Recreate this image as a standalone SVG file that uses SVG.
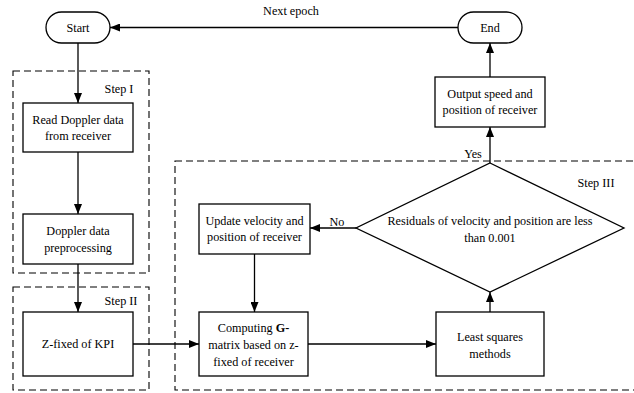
<svg xmlns="http://www.w3.org/2000/svg" width="634" height="393" viewBox="0 0 634 393">
<defs>
<marker id="arr" markerWidth="10" markerHeight="8" refX="10" refY="4" orient="auto" markerUnits="userSpaceOnUse">
<path d="M0,0 L10,4 L0,8 Z" fill="#000"/>
</marker>
<style>
.box{fill:#fff;stroke:#000;stroke-width:1.3}
.step{fill:none;stroke:#000;stroke-width:1.1;stroke-dasharray:7,4}
.t{font-family:'Liberation Serif','Times New Roman',serif;font-size:12.2px;fill:#000;text-anchor:middle}
.c{fill:none;stroke:#000;stroke-width:1.3;marker-end:url(#arr)}
</style>
</defs>
<rect width="634" height="393" fill="#fff"/>
<g id="steps">
<rect class="step" x="13" y="71" width="136" height="202"/>
<text class="t" x="119" y="93">Step I</text>
<rect class="step" x="13" y="287" width="136" height="103"/>
<text class="t" x="121" y="305">Step II</text>
<rect class="step" x="175" y="161" width="470" height="229"/>
<text class="t" x="596" y="187">Step III</text>
</g>
<g id="connectors">
<path class="c" d="M458,27.5 L110,27.5"/>
<path class="c" d="M78,43 L78,103"/>
<path class="c" d="M78,152 L78,214"/>
<path class="c" d="M78,264 L78,312"/>
<path class="c" d="M133,344 L199,344"/>
<path class="c" d="M308,344 L436,344"/>
<path class="c" d="M490,312 L490,292"/>
<path class="c" d="M356,228 L310,228"/>
<path class="c" d="M254.5,254 L254.5,312"/>
<path class="c" d="M490,163 L490,127"/>
<path class="c" d="M490,77 L490,43"/>
<text class="t" x="291" y="15">Next epoch</text>
<text class="t" x="337" y="226">No</text>
<text class="t" x="473" y="158">Yes</text>
</g>
<g id="start">
<rect class="box" x="46" y="12" width="64" height="31" rx="15.5"/>
<text class="t" x="78" y="32">Start</text>
</g>
<g id="end">
<rect class="box" x="458" y="12" width="64" height="31" rx="15.5"/>
<text class="t" x="490" y="32">End</text>
</g>
<g id="read">
<rect class="box" x="23" y="103" width="110" height="49"/>
<text class="t" x="78" y="124">Read Doppler data</text>
<text class="t" x="78" y="140">from receiver</text>
</g>
<g id="prep">
<rect class="box" x="23" y="214" width="110" height="50"/>
<text class="t" x="78" y="235">Doppler data</text>
<text class="t" x="78" y="252">preprocessing</text>
</g>
<g id="zfixed">
<rect class="box" x="23" y="312" width="110" height="64"/>
<text class="t" x="78" y="348">Z-fixed of KPI</text>
</g>
<g id="update">
<rect class="box" x="199" y="204" width="111" height="50"/>
<text class="t" x="254.5" y="225">Update velocity and</text>
<text class="t" x="254.5" y="241">position of receiver</text>
</g>
<g id="computing">
<rect class="box" x="199" y="312" width="109" height="64"/>
<text class="t" x="253.5" y="332">Computing <tspan font-weight="bold">G-</tspan></text>
<text class="t" x="253.5" y="349">matrix based on z-</text>
<text class="t" x="253.5" y="366">fixed of receiver</text>
</g>
<g id="decision">
<polygon class="box" points="490,163 624,228 490,292 356,228"/>
<text class="t" x="490" y="225">Residuals of velocity and position are less</text>
<text class="t" x="490" y="242">than 0.001</text>
</g>
<g id="output">
<rect class="box" x="435" y="77" width="110" height="50"/>
<text class="t" x="490" y="98">Output speed and</text>
<text class="t" x="490" y="114">position of receiver</text>
</g>
<g id="lsq">
<rect class="box" x="436" y="312" width="108" height="64"/>
<text class="t" x="490" y="341">Least squares</text>
<text class="t" x="490" y="358">methods</text>
</g>
</svg>
